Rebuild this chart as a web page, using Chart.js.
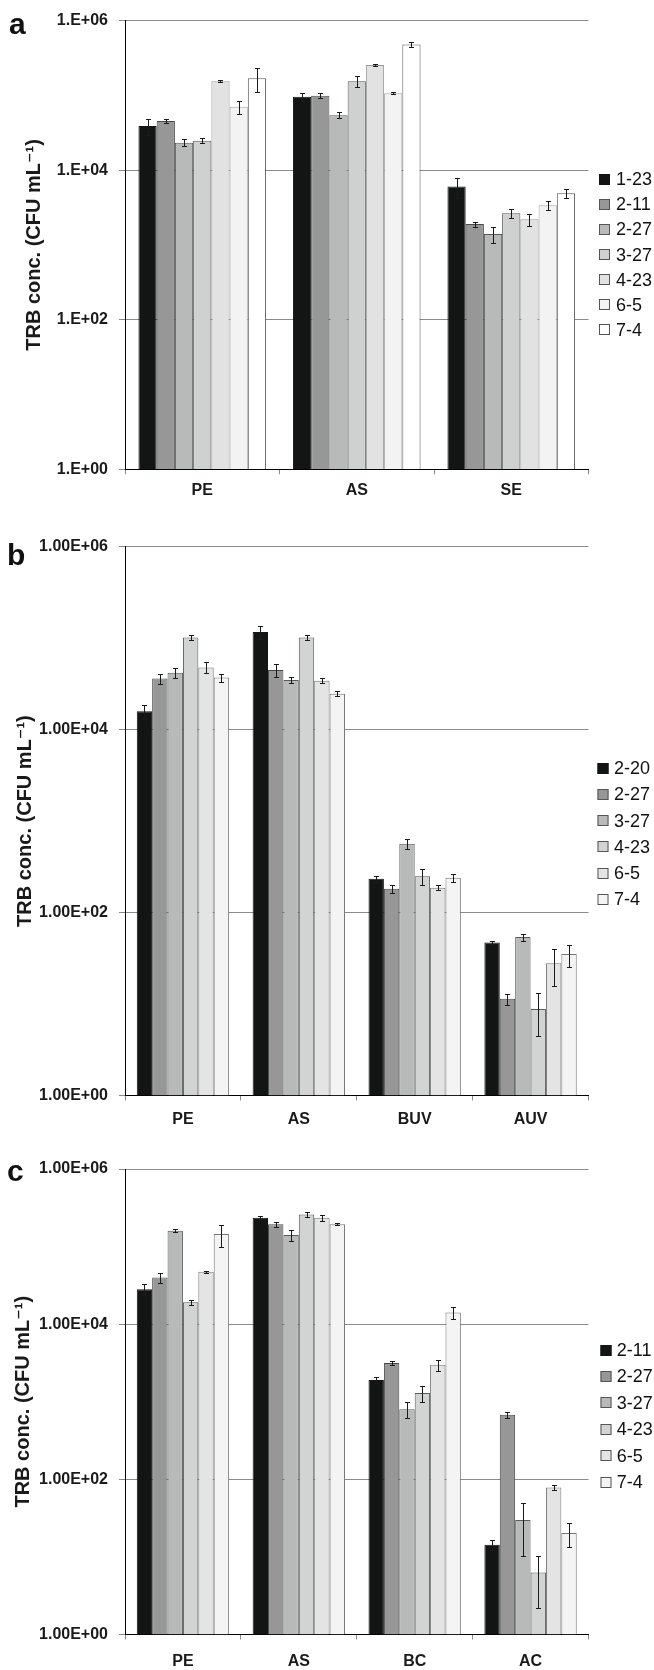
<!DOCTYPE html>
<html>
<head>
<meta charset="utf-8">
<script src="https://cdn.jsdelivr.net/npm/chart.js@4.4.1/dist/chart.umd.min.js"></script>
<style>
  html, body { margin: 0; padding: 0; background: #fff; }
  body { width: 654px; height: 1670px; position: relative; overflow: hidden; }
  canvas { position: absolute; left: 0; }
</style>
</head>
<body>
<canvas id="panelA" width="654" height="501" style="top:0px"></canvas>
<canvas id="panelB" width="654" height="623" style="top:505px"></canvas>
<canvas id="panelC" width="654" height="537" style="top:1130px"></canvas>
<script>
// ---- Panel a: sites PE / AS / SE, sampling dates 1-23 ... 7-4 ----
const catsA  = ['PE', 'AS', 'SE'];
const datesA = ['1-23', '2-11', '2-27', '3-27', '4-23', '6-5', '7-4'];
const meanA_PE = [39000, 45600, 23300, 24800, 155000, 70700, 170000];
const meanA_AS = [96000, 99000, 54300, 155000, 255000, 107000, 480000];
const meanA_SE = [6070, 1900, 1400, 2660, 2210, 3400, 4900];
const errA_PE  = [9300, 2900, 2500, 2000, 4700, 14000, 60000];
const errA_AS  = [11000, 8000, 5000, 27000, 10000, 4000, 35000];
const errA_SE  = [1800, 140, 330, 360, 390, 470, 650];

// ---- Panel b: PE / AS / BUV / AUV ----
const catsB  = ['PE', 'AS', 'BUV', 'AUV'];
const datesB = ['2-20', '2-27', '3-27', '4-23', '6-5', '7-4'];
const meanB_PE  = [15900, 36200, 42000, 102000, 47900, 37200];
const meanB_AS  = [117000, 44900, 34900, 102000, 34200, 24700];
const meanB_BUV = [235, 182, 566, 249, 187, 240];
const meanB_AUV = [47, 11.4, 54, 8.85, 27.9, 35.2];
const errB_PE   = [2900, 4600, 4900, 5800, 6600, 3800];
const errB_AS   = [18000, 7000, 2900, 5800, 2100, 1600];
const errB_BUV  = [18, 17, 66, 50, 12, 23];
const errB_AUV  = [2.2, 1.6, 4.6, 4.4, 12, 9.5];

// ---- Panel c: PE / AS / BC / AC ----
const catsC  = ['PE', 'AS', 'BC', 'AC'];
const datesC = ['2-11', '2-27', '3-27', '4-23', '6-5', '7-4'];
const meanC_PE = [28200, 40000, 160000, 19200, 47500, 145000];
const meanC_AS = [235000, 194000, 141000, 260000, 235000, 194000];
const meanC_BC = [1900, 3150, 800, 1300, 2990, 14100];
const meanC_AC = [14.4, 682, 29.9, 6.3, 78.5, 20.4];
const errC_PE  = [4300, 6000, 7500, 1400, 1500, 46000];
const errC_AS  = [14000, 16000, 23000, 19000, 19000, 5000];
const errC_BC  = [180, 160, 180, 300, 500, 2400];
const errC_AC  = [2.3, 57, 19.5, 4.1, 5.8, 7];

// y-axis tick values (every two decades)
const yTicks = [1, 100, 10000, 1000000];
const yTitle = 'TRB conc. (CFU mL\u207B\u00B9)';

const FONT = "'Liberation Sans', Arial, Helvetica, 'DejaVu Sans', sans-serif";
Chart.defaults.font.family = FONT;

const fills7 = ['#131514', '#969796', '#b8b9b9', '#cfd0d0', '#e2e2e2', '#f3f3f3', '#ffffff'];
const edges7 = ['#131514', '#4a4a4a', '#5a5a5a', '#5a5a5a', '#9a9a9a', '#a8a8a8', '#5a5a5a'];
const fills6 = ['#131514', '#969796', '#b8b9b9', '#d2d3d3', '#e4e4e4', '#f4f4f4'];
const edges6 = ['#131514', '#4a4a4a', '#5a5a5a', '#5a5a5a', '#777777', '#777777'];

// one dataset per sampling date, values taken across the site rows
function buildSets(dates, rows, errRows, fills, edges) {
  return dates.map((d, s) => ({
    label: d,
    data: rows.map(r => r[s]),
    errors: errRows.map(r => r[s]),
    backgroundColor: fills[s],
    borderColor: edges[s],
    borderWidth: 1,
    legendEdge: s === 0 ? '#131514' : '#555555'
  }));
}

// vertical error bars with small caps
const errorBars = {
  id: 'errorBars',
  afterDatasetsDraw(chart) {
    const { ctx } = chart;
    const ys = chart.scales.y;
    ctx.save();
    ctx.strokeStyle = '#1a1a1a';
    ctx.lineWidth = 1;
    chart.data.datasets.forEach((ds, di) => {
      const meta = chart.getDatasetMeta(di);
      meta.data.forEach((bar, i) => {
        const v = ds.data[i], e = ds.errors[i];
        const top = Math.round(ys.getPixelForValue(v + e)) + 0.5;
        const bot = Math.round(ys.getPixelForValue(Math.max(v - e, 0.001))) + 0.5;
        const x = Math.round(bar.x) + 0.5;
        ctx.beginPath();
        ctx.moveTo(x, top); ctx.lineTo(x, bot);
        ctx.moveTo(x - 2.5, top); ctx.lineTo(x + 2.5, top);
        ctx.moveTo(x - 2.5, bot); ctx.lineTo(x + 2.5, bot);
        ctx.stroke();
      });
    });
    ctx.restore();
  }
};

// legend column of swatches on the right
const swatchLegend = {
  id: 'swatchLegend',
  afterDraw(chart, args, o) {
    const ctx = chart.ctx;
    ctx.save();
    ctx.font = '18px ' + FONT;
    ctx.textBaseline = 'middle';
    ctx.textAlign = 'left';
    chart.data.datasets.forEach((ds, i) => {
      const cy = o.y0 + o.step * i;
      const top = Math.round(cy - o.box / 2);
      ctx.fillStyle = ds.backgroundColor;
      ctx.fillRect(o.boxX, top, o.box, o.box);
      ctx.strokeStyle = ds.legendEdge;
      ctx.lineWidth = 1;
      ctx.strokeRect(o.boxX + 0.5, top + 0.5, o.box - 1, o.box - 1);
      ctx.fillStyle = '#111';
      ctx.fillText(ds.label, o.textX, cy + 1);
    });
    ctx.restore();
  }
};

// bold panel letter in the top-left corner
const panelLetter = {
  id: 'panelLetter',
  afterDraw(chart, args, o) {
    const ctx = chart.ctx;
    ctx.save();
    ctx.fillStyle = '#111';
    ctx.font = 'bold 30px ' + FONT;
    ctx.textAlign = 'left';
    ctx.textBaseline = 'alphabetic';
    ctx.fillText(o.letter, o.x, o.y);
    ctx.restore();
  }
};

function makePanel(id, cfg) {
  const canvas = document.getElementById(id);
  const H = canvas.height;
  const xAxisH = H - cfg.chartBottom;
  return new Chart(canvas, {
    type: 'bar',
    data: { labels: cfg.cats, datasets: cfg.sets },
    plugins: [errorBars, swatchLegend, panelLetter],
    options: {
      responsive: false,
      animation: false,
      events: [],
      layout: { padding: { top: cfg.chartTop, right: 654 - 588.5, bottom: 0, left: 0 } },
      datasets: { bar: { categoryPercentage: cfg.catPct, barPercentage: 1.0 } },
      plugins: {
        legend: { display: false },
        tooltip: { enabled: false },
        swatchLegend: cfg.legend,
        panelLetter: cfg.letter
      },
      scales: {
        x: {
          type: 'category',
          grid: { offset: true, drawOnChartArea: false, tickLength: 5, tickColor: '#8a8a8a' },
          border: { display: true, color: '#000', width: 1 },
          ticks: { color: '#1a1a1a', padding: cfg.xPad, font: { size: 16, weight: 'bold' } },
          afterFit(scale) { scale.height = xAxisH; }
        },
        y: {
          type: 'logarithmic',
          min: 1,
          max: 1000000,
          grid: { color: '#8a8a8a', lineWidth: 1, tickLength: 6, tickColor: '#8a8a8a' },
          border: { display: true, color: '#000', width: 1 },
          title: {
            display: true,
            text: yTitle,
            color: '#1a1a1a',
            font: { size: 20, weight: 'bold' },
            padding: { top: cfg.titlePad, bottom: 0 }
          },
          afterBuildTicks(scale) { scale.ticks = yTicks.map(v => ({ value: v })); },
          ticks: {
            color: '#1a1a1a',
            padding: 11,
            font: { size: 16, weight: 'bold' },
            callback(v) {
              const p = Math.round(Math.log10(v));
              return cfg.mantissa + 'E+' + String(p).padStart(2, '0');
            }
          },
          afterFit(scale) { scale.width = 125; }
        }
      }
    }
  });
}

makePanel('panelA', {
  cats: catsA,
  sets: buildSets(datesA, [meanA_PE, meanA_AS, meanA_SE], [errA_PE, errA_AS, errA_SE], fills7, edges7),
  chartTop: 17.3, chartBottom: 469.3, catPct: 0.826, xPad: 7, mantissa: '1.', titlePad: 22,
  legend: { boxX: 599, box: 11, textX: 616, y0: 179.3, step: 25.1 },
  letter: { letter: 'a', x: 9, y: 34 }
});

makePanel('panelB', {
  cats: catsB,
  sets: buildSets(datesB, [meanB_PE, meanB_AS, meanB_BUV, meanB_AUV], [errB_PE, errB_AS, errB_BUV, errB_AUV], fills6, edges6),
  chartTop: 41.7, chartBottom: 590.5, catPct: 0.797, xPad: 9, mantissa: '1.00', titlePad: 13,
  legend: { boxX: 597.5, box: 11, textX: 614, y0: 263.3, step: 26.2 },
  letter: { letter: 'b', x: 7, y: 60 }
});

makePanel('panelC', {
  cats: catsC,
  sets: buildSets(datesC, [meanC_PE, meanC_AS, meanC_BC, meanC_AC], [errC_PE, errC_AS, errC_BC, errC_AC], fills6, edges6),
  chartTop: 39, chartBottom: 504.5, catPct: 0.797, xPad: 12, mantissa: '1.00', titlePad: 11,
  legend: { boxX: 600.5, box: 11, textX: 616.7, y0: 220, step: 26.4 },
  letter: { letter: 'c', x: 7, y: 51 }
});
</script>
</body>
</html>
